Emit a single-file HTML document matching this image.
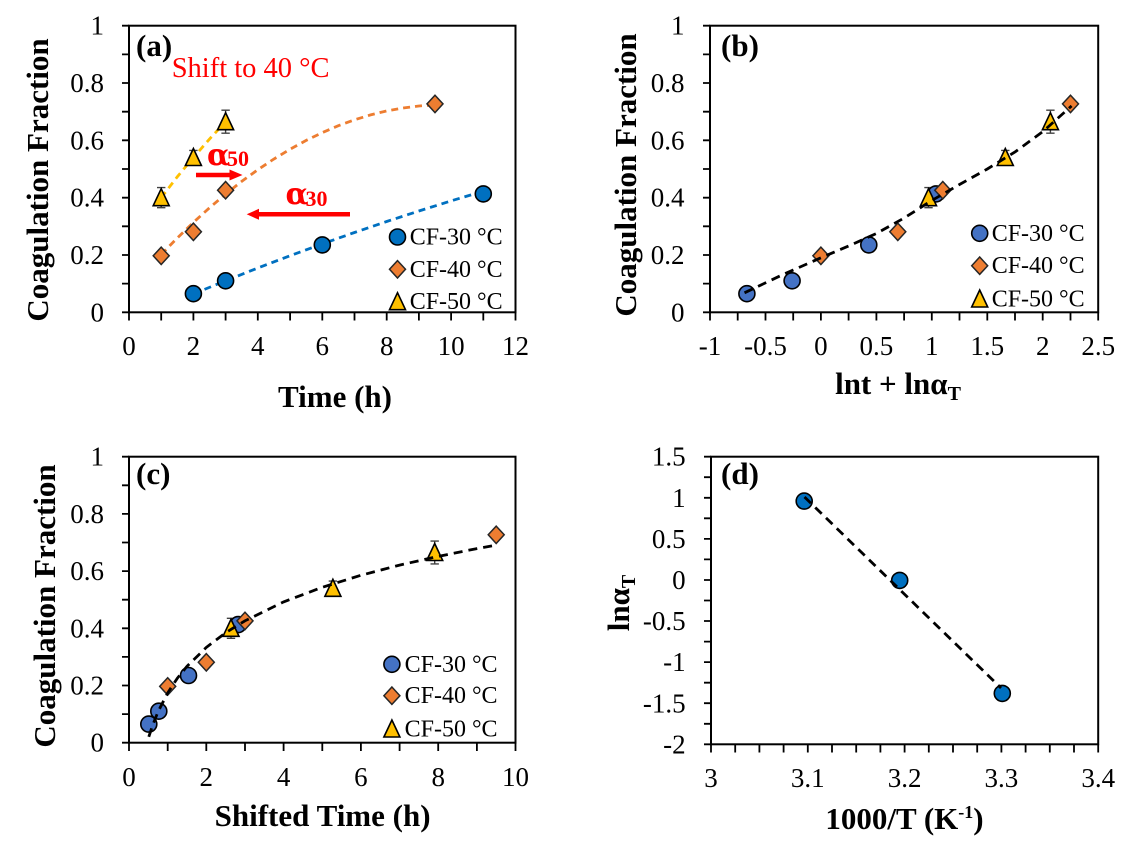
<!DOCTYPE html>
<html><head><meta charset="utf-8"><style>
html,body{margin:0;padding:0;background:#fff;}
svg{display:block;}
svg text{font-family:"Liberation Serif","DejaVu Serif",serif;}
.t{font-size:27px;}
.lg{font-size:24px;}
.b{font-weight:bold;}
</style></head><body>
<svg width="1140" height="863" viewBox="0 0 1140 863" xmlns="http://www.w3.org/2000/svg" font-family="Liberation Serif, DejaVu Serif, serif">
<defs>
<g id="c1"><circle r="8" fill="#0070C0" stroke="#000" stroke-width="1.6"/></g>
<g id="c2"><circle r="8" fill="#4472C4" stroke="#000" stroke-width="1.6"/></g>
<g id="dm"><path d="M0,-8.7 L8,0 L0,8.7 L-8,0Z" fill="#ED7D31" stroke="#262626" stroke-width="1.5"/></g>
<g id="tr"><path d="M0,-9 L8,8 L-8,8Z" fill="#FFC000" stroke="#000" stroke-width="1.6"/></g>
</defs>
<rect width="1140" height="863" fill="#fff"/>

<!-- ================= PANEL A ================= -->
<rect x="129" y="25.7" width="386.5" height="286.6" fill="none" stroke="#000" stroke-width="2"/>
<path d="M122,312.3H129M122,283.6H129M122,255H129M122,226.3H129M122,197.7H129M122,169H129M122,140.3H129M122,111.7H129M122,83H129M122,54.4H129M122,25.7H129
M129,312.3V320.5M161.2,312.3V320.5M193.4,312.3V320.5M225.6,312.3V320.5M257.8,312.3V320.5M290.1,312.3V320.5M322.3,312.3V320.5M354.5,312.3V320.5M386.7,312.3V320.5M418.9,312.3V320.5M451.1,312.3V320.5M483.3,312.3V320.5M515.5,312.3V320.5" stroke="#000" stroke-width="1.8" fill="none"/>
<g class="t" font-size="27" text-anchor="end" font-family="Liberation Serif, serif">
<text x="104" y="321.3">0</text><text x="104" y="264">0.2</text><text x="104" y="206.7">0.4</text><text x="104" y="149.3">0.6</text><text x="104" y="92">0.8</text><text x="104" y="34.7">1</text>
</g>
<g class="t" font-size="27" text-anchor="middle" font-family="Liberation Serif, serif">
<text x="129" y="355">0</text><text x="193.4" y="355">2</text><text x="257.8" y="355">4</text><text x="322.3" y="355">6</text><text x="386.7" y="355">8</text><text x="451.1" y="355">10</text><text x="515.5" y="355">12</text>
</g>
<text class="b" font-weight="bold" font-family="Liberation Serif, serif" font-size="31" text-anchor="middle" x="335" y="407">Time (h)</text>
<text class="b" font-weight="bold" font-family="Liberation Serif, serif" font-size="31" text-anchor="middle" transform="translate(48,180) rotate(-90)">Coagulation Fraction</text>
<text class="b" font-weight="bold" font-family="Liberation Serif, serif" font-size="31" x="136" y="56">(a)</text>
<text font-family="Liberation Serif, serif" font-size="28.5" x="171.7" y="77" fill="#FF0000" style="fill:#FF0000">Shift to 40 °C</text>

<!-- fit curves A -->
<polyline fill="none" stroke="#FFC000" stroke-width="2.8" stroke-dasharray="7 5" points="161.2,197.7 177.3,176.8 193.4,157.5 209.5,139.1 220.8,126.8"/>
<polyline fill="none" stroke="#ED7D31" stroke-width="2.8" stroke-dasharray="7 5" points="161.2,254.5 177.3,238 193.4,222.4 209.5,207.8 225.6,194.1 241.7,181.4 257.8,169.7 273.9,159 290.1,149.2 306.2,140.4 322.3,132.6 338.4,125.7 354.5,119.8 370.6,114.9 386.7,110.9 402.8,108 418.9,106 435,104.9"/>
<polyline fill="none" stroke="#0070C0" stroke-width="2.8" stroke-dasharray="7 5" points="193.4,293.9 225.6,280.8 257.8,268 290.1,255.7 322.3,243.9 354.5,232.5 386.7,221.5 418.9,211 451.1,200.9 483.3,191.2"/>

<!-- arrows A -->
<path d="M196,175 H231" stroke="#FF0000" stroke-width="4.5"/>
<polygon points="229.5,169.5 242.5,175 229.5,180.5" fill="#FF0000"/>
<path d="M350,214.3 H257" stroke="#FF0000" stroke-width="4.5"/>
<polygon points="259,208.8 246.7,214.3 259,219.8" fill="#FF0000"/>
<g font-weight="bold" fill="#FF0000" style="fill:#FF0000">
<text font-family="DejaVu Serif, serif" style="fill:#FF0000;font-family:'DejaVu Serif',serif" font-size="30" x="207" y="165">α</text>
<text font-family="Liberation Serif, serif" font-size="22" x="227" y="166" style="fill:#FF0000">50</text>
<text font-family="DejaVu Serif, serif" style="fill:#FF0000;font-family:'DejaVu Serif',serif" font-size="30" x="285.5" y="204">α</text>
<text font-family="Liberation Serif, serif" font-size="22" x="305.5" y="206" style="fill:#FF0000">30</text>
</g>

<!-- error bars A -->
<path d="M161.2,187.6V207.7M157,187.6H165.4M157,207.7H165.4M193.4,150.4V164.7M189.2,150.4H197.6M189.2,164.7H197.6M225.6,110.2V133.2M221.4,110.2H229.8M221.4,133.2H229.8" stroke="#404040" stroke-width="1.4" fill="none"/>
<!-- markers A -->
<use href="#c1" x="193.4" y="293.7"/><use href="#c1" x="225.6" y="280.8"/><use href="#c1" x="322.3" y="244.9"/><use href="#c1" x="483.3" y="193.9"/>
<use href="#dm" x="161.2" y="255.8"/><use href="#dm" x="193.4" y="231.8"/><use href="#dm" x="225.6" y="190.2"/><use href="#dm" x="435" y="103.9"/>
<use href="#tr" x="161.2" y="197.7"/><use href="#tr" x="193.4" y="157.5"/><use href="#tr" x="225.6" y="121.7"/>
<!-- legend A -->
<use href="#c1" x="397.5" y="237"/><use href="#dm" x="397.5" y="269.3"/><use href="#tr" x="397.5" y="301.7"/>
<g class="lg" font-size="24" font-family="Liberation Serif, serif"><text x="409.7" y="244.5">CF-30 °C</text><text x="409.7" y="276.8">CF-40 °C</text><text x="409.7" y="309.2">CF-50 °C</text></g>

<!-- ================= PANEL B ================= -->
<rect x="710" y="25.7" width="388.2" height="286.6" fill="none" stroke="#000" stroke-width="2"/>
<path d="M703,312.3H710M703,283.6H710M703,255H710M703,226.3H710M703,197.7H710M703,169H710M703,140.3H710M703,111.7H710M703,83H710M703,54.4H710M703,25.7H710
M710,312.3V320.5M737.7,312.3V320.5M765.5,312.3V320.5M793.2,312.3V320.5M820.9,312.3V320.5M848.6,312.3V320.5M876.4,312.3V320.5M904.1,312.3V320.5M931.8,312.3V320.5M959.5,312.3V320.5M987.3,312.3V320.5M1015,312.3V320.5M1042.7,312.3V320.5M1070.5,312.3V320.5M1098.2,312.3V320.5" stroke="#000" stroke-width="1.8" fill="none"/>
<g class="t" font-size="27" text-anchor="end" font-family="Liberation Serif, serif">
<text x="684.5" y="321.3">0</text><text x="684.5" y="264">0.2</text><text x="684.5" y="206.7">0.4</text><text x="684.5" y="149.3">0.6</text><text x="684.5" y="92">0.8</text><text x="684.5" y="34.7">1</text>
</g>
<g class="t" font-size="27" text-anchor="middle" font-family="Liberation Serif, serif">
<text x="710" y="355">-1</text><text x="765.5" y="355">-0.5</text><text x="820.9" y="355">0</text><text x="876.4" y="355">0.5</text><text x="931.8" y="355">1</text><text x="987.3" y="355">1.5</text><text x="1042.7" y="355">2</text><text x="1098.2" y="355">2.5</text>
</g>
<text class="b" font-weight="bold" font-family="Liberation Serif, serif" font-size="31" text-anchor="middle" x="898" y="394">lnt + lnα<tspan font-size="20" dy="6">T</tspan></text>
<text class="b" font-weight="bold" font-family="Liberation Serif, serif" font-size="31" text-anchor="middle" transform="translate(636,175) rotate(-90)">Coagulation Fraction</text>
<text class="b" font-weight="bold" font-family="Liberation Serif, serif" font-size="31" x="721" y="56">(b)</text>
<!-- error bars B -->
<path d="M928.5,187.6V207.7M924.3,187.6H932.7M924.3,207.7H932.7M1005.3,150.4V164.7M1001.1,150.4H1009.5M1001.1,164.7H1009.5M1050.4,110.2V133.2M1046.2,110.2H1054.6M1046.2,133.2H1054.6" stroke="#404040" stroke-width="1.4" fill="none"/>
<use href="#c2" x="746.9" y="293.7"/><use href="#c2" x="792.1" y="280.8"/><use href="#c2" x="868.8" y="244.9"/><use href="#c2" x="936" y="193.9"/>
<use href="#dm" x="820.9" y="255.8"/><use href="#dm" x="897.8" y="231.8"/><use href="#dm" x="942.8" y="190.2"/><use href="#dm" x="1070.5" y="103.9"/>
<use href="#tr" x="928.5" y="197.7"/><use href="#tr" x="1005.3" y="157.5"/><use href="#tr" x="1050.4" y="121.7"/>
<polyline fill="none" stroke="#000" stroke-width="2.8" stroke-dasharray="9 6" points="744.5,292.8 782,275 820.9,257.8 848.6,246 876.4,233.5 904.1,218 931.8,200.5 959.5,184.5 987.3,169 1015,152 1042.7,131.7 1071.6,105.9"/>
<use href="#c2" x="979.7" y="233.3"/><use href="#dm" x="979.7" y="265.7"/><use href="#tr" x="979.7" y="299"/>
<g class="lg" font-size="24" font-family="Liberation Serif, serif"><text x="991.7" y="240.8">CF-30 °C</text><text x="991.7" y="273.2">CF-40 °C</text><text x="991.7" y="306.5">CF-50 °C</text></g>

<!-- ================= PANEL C ================= -->
<rect x="129" y="456.7" width="386.5" height="286" fill="none" stroke="#000" stroke-width="2"/>
<path d="M122,742.7H129M122,714.1H129M122,685.5H129M122,656.9H129M122,628.3H129M122,599.7H129M122,571.1H129M122,542.5H129M122,513.9H129M122,485.3H129M122,456.7H129
M129,742.7V751M167.7,742.7V751M206.3,742.7V751M245,742.7V751M283.6,742.7V751M322.3,742.7V751M360.9,742.7V751M399.6,742.7V751M438.2,742.7V751M476.9,742.7V751M515.5,742.7V751" stroke="#000" stroke-width="1.8" fill="none"/>
<g class="t" font-size="27" text-anchor="end" font-family="Liberation Serif, serif">
<text x="104" y="751.7">0</text><text x="104" y="694.5">0.2</text><text x="104" y="637.3">0.4</text><text x="104" y="580.1">0.6</text><text x="104" y="522.9">0.8</text><text x="104" y="465.7">1</text>
</g>
<g class="t" font-size="27" text-anchor="middle" font-family="Liberation Serif, serif">
<text x="129" y="786">0</text><text x="206.3" y="786">2</text><text x="283.6" y="786">4</text><text x="360.9" y="786">6</text><text x="438.2" y="786">8</text><text x="515.5" y="786">10</text>
</g>
<text class="b" font-weight="bold" font-family="Liberation Serif, serif" font-size="31" text-anchor="middle" x="322.6" y="826">Shifted Time (h)</text>
<text class="b" font-weight="bold" font-family="Liberation Serif, serif" font-size="31" text-anchor="middle" transform="translate(55,606) rotate(-90)">Coagulation Fraction</text>
<text class="b" font-weight="bold" font-family="Liberation Serif, serif" font-size="31" x="136" y="484">(c)</text>
<path d="M231,618.3V638.3M226.8,618.3H235.2M226.8,638.3H235.2M332.9,581.1V595.4M328.7,581.1H337.1M328.7,595.4H337.1M434.7,541.1V563.9M430.5,541.1H438.9M430.5,563.9H438.9" stroke="#404040" stroke-width="1.4" fill="none"/>
<use href="#c2" x="148.8" y="724.1"/><use href="#c2" x="158.8" y="711.2"/><use href="#c2" x="188.5" y="675.5"/><use href="#c2" x="238.1" y="624.6"/>
<use href="#dm" x="167.7" y="686.4"/><use href="#dm" x="206.3" y="662.3"/><use href="#dm" x="245" y="620.9"/><use href="#dm" x="496.2" y="534.8"/>
<use href="#tr" x="231" y="628.3"/><use href="#tr" x="332.9" y="588.3"/><use href="#tr" x="434.7" y="552.5"/>
<polyline fill="none" stroke="#000" stroke-width="2.8" stroke-dasharray="9 6" points="148.8,736.8 152.2,726.5 158,711.8 167.7,692.9 177.3,678.3 187,666.3 206.3,647.4 225.6,632.8 245,620.8 283.6,601.9 322.3,587.3 360.9,575.3 399.6,565.1 438.2,556.4 476.9,548.6 496.2,545.1"/>
<use href="#c2" x="391.9" y="664.3"/><use href="#dm" x="391.9" y="695.7"/><use href="#tr" x="391.9" y="729"/>
<g class="lg" font-size="24" font-family="Liberation Serif, serif"><text x="404.6" y="671.8">CF-30 °C</text><text x="404.6" y="703.2">CF-40 °C</text><text x="404.6" y="736.5">CF-50 °C</text></g>

<!-- ================= PANEL D ================= -->
<rect x="711" y="456.7" width="387.2" height="287.6" fill="none" stroke="#000" stroke-width="2"/>
<path d="M704,456.7H711M704,477.2H711M704,497.8H711M704,518.3H711M704,538.9H711M704,559.4H711M704,580H711M704,600.5H711M704,621H711M704,641.6H711M704,662.1H711M704,682.7H711M704,703.2H711M704,723.8H711M704,744.3H711
M711,744.3V752.5M735.2,744.3V752.5M759.4,744.3V752.5M783.6,744.3V752.5M807.8,744.3V752.5M832,744.3V752.5M856.2,744.3V752.5M880.4,744.3V752.5M904.6,744.3V752.5M928.8,744.3V752.5M953,744.3V752.5M977.2,744.3V752.5M1001.4,744.3V752.5M1025.6,744.3V752.5M1049.8,744.3V752.5M1074,744.3V752.5M1098.2,744.3V752.5" stroke="#000" stroke-width="1.8" fill="none"/>
<g class="t" font-size="27" text-anchor="end" font-family="Liberation Serif, serif">
<text x="685.6" y="465.7">1.5</text><text x="685.6" y="506.9">1</text><text x="685.6" y="548">0.5</text><text x="685.6" y="589">0</text><text x="685.6" y="630.1">-0.5</text><text x="685.6" y="671.2">-1</text><text x="685.6" y="712.3">-1.5</text><text x="685.6" y="753.3">-2</text>
</g>
<g class="t" font-size="27" text-anchor="middle" font-family="Liberation Serif, serif">
<text x="711" y="787">3</text><text x="807.8" y="787">3.1</text><text x="904.6" y="787">3.2</text><text x="1001.4" y="787">3.3</text><text x="1098.2" y="787">3.4</text>
</g>
<text class="b" font-weight="bold" font-family="Liberation Serif, serif" font-size="31" text-anchor="middle" x="904.5" y="829">1000/T (K<tspan font-size="18" dy="-11">-1</tspan><tspan dy="11">)</tspan></text>
<text class="b" font-weight="bold" font-family="Liberation Serif, serif" font-size="31" text-anchor="middle" transform="translate(629,603) rotate(-90)">lnα<tspan font-size="20" dy="6">T</tspan></text>
<text class="b" font-weight="bold" font-family="Liberation Serif, serif" font-size="31" x="721" y="484">(d)</text>
<use href="#c1" x="804.2" y="501.1"/><use href="#c1" x="899.7" y="580.4"/><use href="#c1" x="1002.3" y="693.4"/>
<path d="M804.5,497 L1001,688" stroke="#000" stroke-width="2.8" stroke-dasharray="9 6" fill="none"/>
</svg>
</body></html>
